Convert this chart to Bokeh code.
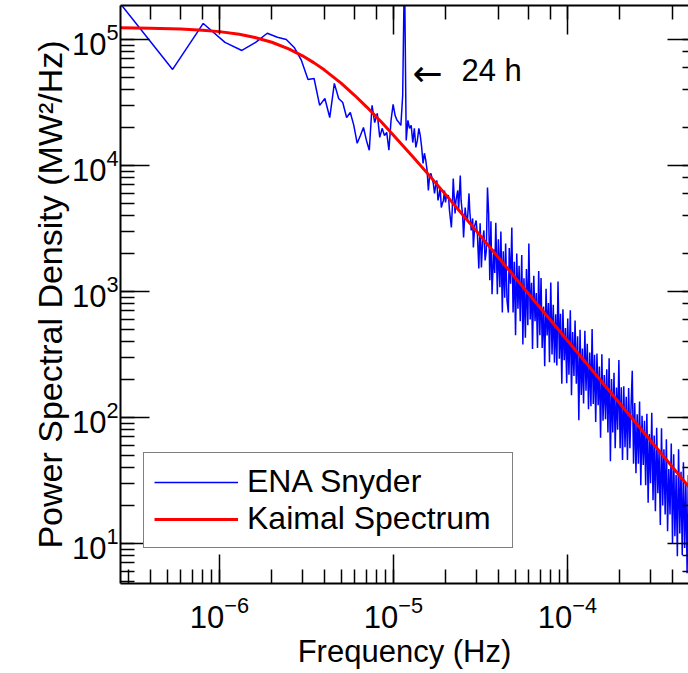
from bokeh.plotting import figure
from bokeh.models import LogAxis, Range1d, Label, Legend, LegendItem, ColumnDataSource
from bokeh.embed import file_html
from bokeh.resources import INLINE

# ---------------- data ----------------
FREQ_RES_HZ = 2.69e-7  # spectral resolution (harmonic spacing)

# ENA Snyder spectrum: harmonic indices and PSD values (MW^2/Hz)
harmonic_low = list(range(1, 76))
psd_low = [193000, 57800, 134000, 94700, 81800, 94700, 112000, 104000, 100000, 86400,
           68100, 48100, 49000, 30000, 34000, 24000, 44800, 34000, 31600, 24000,
           26300, 20800, 15000, 17300, 20000, 15800, 13200, 30000, 21900, 25900,
           16700, 19700, 17300, 18300, 13200, 22800, 30500, 24900, 22800, 21900,
           20800, 35900, 400000, 15800, 22800, 19700, 20800, 15200, 19700, 13900,
           15800, 19700, 17300, 13900, 10400, 12500, 11000, 9130, 6330, 8330,
           8640, 7880, 7200, 6000, 6940, 7600, 5280, 5780, 6690, 4640,
           4990, 5280, 6330, 5090, 5780]

harmonic_high = [
    77, 78, 80, 81, 82, 84, 85, 87,
    88, 90, 91, 93, 94, 96, 97, 99,
    101, 102, 104, 106, 107, 109, 111, 113,
    115, 117, 119, 121, 123, 125, 127, 129,
    131, 133, 135, 137, 140, 142, 144, 147,
    149, 152, 154, 157, 159, 162, 164, 167,
    170, 172, 175, 178, 181, 184, 187, 190,
    193, 196, 199, 203, 206, 209, 213, 216,
    220, 223, 227, 231, 234, 238, 242, 246,
    250, 254, 258, 262, 266, 271, 275, 280,
    284, 289, 293, 298, 303, 308, 313, 318,
    323, 328, 334, 339, 345, 350, 356, 362,
    368, 373, 379, 386, 392, 398, 405, 411,
    418, 425, 432, 439, 446, 453, 460, 468,
    475, 483, 491, 499, 507, 515, 523, 532,
    540, 549, 558, 567, 576, 586, 595, 605,
    615, 625, 635, 645, 656, 666, 677, 688,
    699, 711, 722, 734, 746, 758, 770, 783,
    796, 809, 822, 835, 849, 862, 876, 891,
    905, 920, 935, 950, 965, 981, 997, 1013,
    1030, 1046, 1063, 1081, 1098, 1116, 1134, 1153,
    1171, 1190, 1210, 1229, 1249, 1270, 1290, 1311,
    1332, 1354, 1376, 1398, 1421, 1444, 1468, 1492,
    1516, 1540, 1565, 1591, 1617, 1643, 1670, 1697,
    1724, 1752, 1781, 1810, 1839, 1869, 1900]
psd_high = [
    5780, 4400, 3220, 4640, 7880, 4160, 5280, 6330,
    4400, 8330, 5280, 3870, 2680, 4640, 4010, 3660,
    6000, 4400, 3050, 3800, 2230, 3340, 3660, 2780,
    1520, 3470, 1550, 2540, 3050, 1760, 2110, 6690,
    4160, 1230, 3600, 950, 2150, 1400, 3510, 950,
    2600, 1080, 2990, 680, 2080, 890, 2400, 850,
    680, 2210, 1150, 3210, 680, 1720, 450, 2000,
    730, 1600, 580, 1950, 380, 1270, 430, 1510,
    540, 2400, 600, 1170, 350, 1330, 580, 970,
    356, 1450, 450, 1280, 356, 760, 255, 1050,
    448, 810, 274, 1180, 316, 784, 272, 660,
    258, 1200, 293, 666, 185, 722, 285, 512,
    187, 609, 218, 710, 150, 476, 213, 587,
    185, 441, 95, 496, 151, 353, 129, 487,
    163, 384, 116, 328, 123, 504, 128, 314,
    92, 321, 125, 254, 69, 317, 94, 217,
    97, 241, 76, 295, 45, 202, 76, 226,
    57, 173, 80, 286, 57, 174, 46, 177,
    58, 146, 46, 171, 57, 121, 235, 43,
    130, 36, 106, 43, 134, 29, 103, 42,
    94, 29, 107, 21, 74, 30, 109, 22,
    72, 18, 83, 25, 54, 14, 82, 20,
    56, 17, 67, 12.5, 39, 17, 62, 10,
    51, 11.4, 35, 7.9, 56, 12, 37, 8.1,
    44, 9.2, 30, 5.8, 35, 8.3, 24]

# Kaimal spectrum
kaimal_freq = [2.7e-7, 4e-7, 6e-7, 8e-7, 1e-6, 1.3e-6, 1.6e-6, 2e-6, 2.5e-6, 3e-6,
               3.5e-6, 4e-6, 5e-6, 6e-6, 7e-6, 8.5e-6, 1e-5, 1.3e-5, 1.6e-5, 2e-5,
               3e-5, 5e-5, 1e-4, 2e-4, 3e-4, 5e-4, 5.5e-4]
kaimal_psd = [123800, 122900, 121000, 118500, 115400, 109900, 103700, 95000, 84200, 74200,
              65200, 57400, 45000, 35900, 29200, 22200, 17400, 11600, 8380, 5840,
              3010, 1290, 408, 129, 65.6, 28.0, 23.9]

series_names = ["ENA Snyder", "Kaimal Spectrum"]
peak_arrow = "\u2190"
peak_text = "24 h"
x_title = "Frequency (Hz)"
y_title = "Power Spectral Density (MW\u00b2/Hz)"

# ---------------- plot ----------------
harmonics = harmonic_low + harmonic_high
snyder = ColumnDataSource(dict(f=[k * FREQ_RES_HZ for k in harmonics], psd=psd_low + psd_high))
kaimal = ColumnDataSource(dict(f=kaimal_freq, psd=kaimal_psd))

FONT = "Liberation Sans"

p = figure(width=688, height=673, x_axis_type="log", y_axis_type="log",
           x_range=Range1d(2.70e-7, 4.96e-4), y_range=Range1d(4.81, 1.86e5),
           output_backend="svg", toolbar_location=None,
           min_border_left=120, min_border_right=0, min_border_top=5, min_border_bottom=90)
p.outline_line_color = None
p.xgrid.visible = False
p.ygrid.visible = False
p.background_fill_color = "white"
p.border_fill_color = "white"

r1 = p.line("f", "psd", source=snyder, line_color="#0000ff", line_width=1.5)
r2 = p.line("f", "psd", source=kaimal, line_color="#ff0000", line_width=3)

top_axis = LogAxis()
right_axis = LogAxis()
p.add_layout(top_axis, "above")
p.add_layout(right_axis, "right")

for ax in p.axis:
    ax.axis_line_color = "black"
    ax.axis_line_width = 2
    ax.major_tick_line_color = "black"
    ax.minor_tick_line_color = "black"
    ax.major_tick_line_width = 1.5
    ax.minor_tick_line_width = 1.5
    ax.major_tick_in = 29
    ax.major_tick_out = 0
    ax.minor_tick_in = 14
    ax.minor_tick_out = 0
    ax.major_label_text_font = FONT
    ax.major_label_text_font_size = "31px"
    ax.major_label_text_color = "black"
    ax.axis_label_text_font = FONT
    ax.axis_label_text_font_size = "31px"
    ax.axis_label_text_font_style = "normal"
    ax.axis_label_text_color = "black"

for ax in (top_axis, right_axis):
    ax.major_label_text_font_size = "1px"
    ax.major_label_text_alpha = 0
    ax.major_label_standoff = 0

right_axis.axis_line_color = None
right_axis.major_tick_in = 21
right_axis.minor_tick_in = 6

p.below[0].axis_label = x_title
p.below[0].major_label_standoff = 12
p.below[0].axis_label_standoff = 3
p.left[0].axis_label = y_title
p.left[0].axis_label_text_font_size = "34px"
p.left[0].major_label_standoff = 2
p.left[0].axis_label_standoff = 0

p.add_layout(Label(x=1.285e-5, y=53700, text=peak_arrow, text_font="DejaVu Sans",
                   text_font_size="36px", text_color="black", text_baseline="alphabetic"))
p.add_layout(Label(x=2.46e-5, y=56700, text=peak_text, text_font=FONT,
                   text_font_size="31px", text_color="black", text_baseline="alphabetic"))

legend = Legend(items=[LegendItem(label=series_names[0], renderers=[r1]),
                       LegendItem(label=series_names[1], renderers=[r2])],
                location=(23, 35), margin=0, padding=10, spacing=0,
                glyph_width=84, glyph_height=36, label_height=36, label_width=255,
                label_standoff=9,
                label_text_font=FONT, label_text_font_size="32px", label_text_color="black",
                border_line_color="black", border_line_width=1.5,
                background_fill_alpha=1.0)
p.add_layout(legend)

open("out.html", "w").write(file_html(p, INLINE))
